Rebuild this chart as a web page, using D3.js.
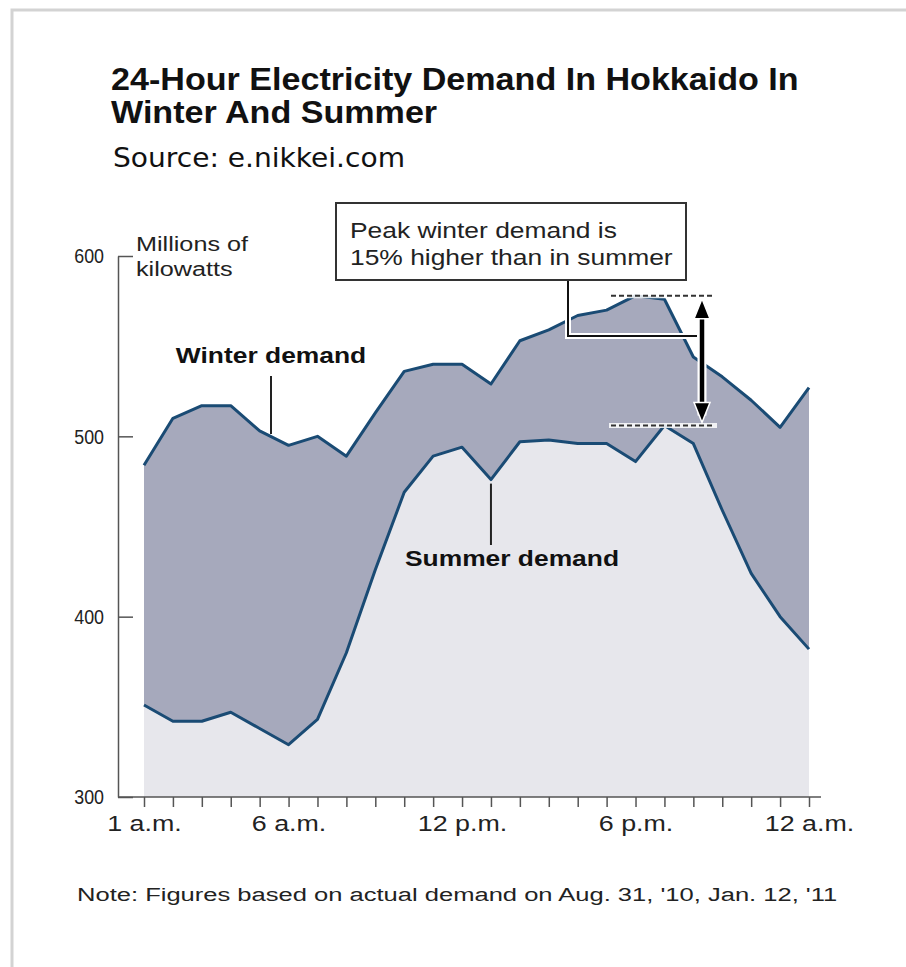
<!DOCTYPE html>
<html>
<head>
<meta charset="utf-8">
<script src="https://cdn.jsdelivr.net/npm/d3@7"></script>
<style>
  body { margin: 0; background: #fff; }
  svg text { font-family: "Liberation Sans", Arial, sans-serif; fill: #111; }
</style>
</head>
<body>
<div id="chart"></div>
<script>
// hours 1 a.m. .. 12 a.m.
const hours = d3.range(1, 25);
const winter = [484, 510, 517, 517, 503, 495, 500, 489, 513, 536, 540, 540,
  529, 553, 559, 567, 570, 578, 576, 544, 533, 520, 505, 527];
const summer = [351, 342, 342, 347, 338, 329, 343, 380, 426, 469, 489, 494,
  476, 497, 498, 496, 496, 486, 506, 496, 459, 424, 400, 382];
const yTicks = [300, 400, 500, 600];
const xLabels = { 1: "1 a.m.", 6: "6 a.m.", 12: "12 p.m.", 18: "6 p.m.", 24: "12 a.m." };

const W = 906, H = 967;
const SX = 1.2; // the graphic's lettering is drawn a bit wide

const svg = d3.select("#chart").append("svg")
  .attr("width", W).attr("height", H);

svg.append("rect").attr("width", W).attr("height", H).attr("fill", "#fff");

// frame (top and left edges only)
svg.append("path")
  .attr("d", `M12,${H} L12,10 L${W},10`)
  .attr("fill", "none").attr("stroke", "#d3d3d3").attr("stroke-width", 3);

// text helper: stretched horizontally around its anchor point
function label(parent, tx, ty, str, size, opts = {}) {
  const t = parent.append("text")
    .attr("transform", `translate(${tx},${ty}) scale(${opts.sx || SX},1)`)
    .attr("font-size", size)
    .attr("text-anchor", opts.anchor || "start")
    .text(str);
  if (opts.bold) t.attr("font-weight", "bold");
  if (opts.fill) t.style("fill", opts.fill);
  if (opts.family) t.style("font-family", opts.family);
  return t;
}

// titles
label(svg, 111, 90, "24-Hour Electricity Demand In Hokkaido In", 31, { bold: true, sx: 1.1 });
label(svg, 111, 123, "Winter And Summer", 31, { bold: true, sx: 1.1 });
label(svg, 113, 167, "Source: e.nikkei.com", 27,
  { sx: 1.04, family: "'DejaVu Sans', Verdana, sans-serif" });

const x = d3.scaleLinear().domain([1, 24]).range([144, 809]);
const y = d3.scaleLinear().domain([300, 600]).range([797, 256]);

// areas
const area = d3.area().x((d, i) => x(hours[i])).y0(y(300)).y1(d => y(d));
svg.append("path").datum(winter).attr("d", area).attr("fill", "#a6a9bc");
svg.append("path").datum(summer).attr("d", area).attr("fill", "#e7e7ec");

const line = d3.line().x((d, i) => x(hours[i])).y(d => y(d));
[winter, summer].forEach(s => {
  svg.append("path").datum(s).attr("d", line)
    .attr("fill", "none").attr("stroke", "#1a4b74")
    .attr("stroke-width", 3).attr("stroke-linejoin", "round");
});

// y axis
const yAxis = svg.append("g").attr("transform", "translate(118,0)")
  .call(d3.axisLeft(y).tickValues(yTicks).tickSize(-15).tickSizeOuter(0).tickPadding(14));
yAxis.selectAll("text").attr("font-size", 21).style("fill", "#222")
  .attr("x", -14 / 0.85).attr("transform", "scale(0.85,1)");
yAxis.selectAll("line, path").attr("stroke", "#555").attr("stroke-width", 1.5);

label(svg, 136, 251, "Millions of", 21, { fill: "#222" });
label(svg, 136, 276, "kilowatts", 21, { fill: "#222" });

// x axis
const xAxis = svg.append("g").attr("transform", `translate(0,${y(300)})`)
  .call(d3.axisBottom(x).tickValues(hours).tickSize(10).tickPadding(8)
    .tickFormat(h => xLabels[h] || ""));
xAxis.select(".domain").remove();
xAxis.selectAll("line").attr("stroke", "#555").attr("stroke-width", 1.5);
xAxis.selectAll("text")
  .attr("font-size", 22).style("fill", "#222")
  .attr("transform", "scale(1.22,1)")
  .attr("x", 0);
svg.append("line").attr("x1", 118).attr("x2", 821)
  .attr("y1", y(300)).attr("y2", y(300))
  .attr("stroke", "#555").attr("stroke-width", 1.5);

// series labels
label(svg, 271, 363, "Winter demand", 22, { bold: true, anchor: "middle" });
svg.append("line").attr("x1", 271).attr("x2", 271).attr("y1", 376).attr("y2", y(winter[4]) + 3)
  .attr("stroke", "#222").attr("stroke-width", 2);

label(svg, 512, 566, "Summer demand", 22, { bold: true, anchor: "middle" });
svg.append("line").attr("x1", x(13)).attr("x2", x(13)).attr("y1", y(summer[12]) + 4).attr("y2", 545)
  .attr("stroke", "#222").attr("stroke-width", 2);

// peak callout
const topY = y(d3.max(winter)), botY = y(d3.max(summer));

const dashes = svg.append("g");
[topY, botY].forEach(yy => {
  dashes.append("line").attr("x1", 609).attr("x2", 717).attr("y1", yy).attr("y2", yy)
    .attr("stroke", "#fff").attr("stroke-width", 5).attr("opacity", 0.85);
  dashes.append("line").attr("x1", 611).attr("x2", 715).attr("y1", yy).attr("y2", yy)
    .attr("stroke", "#333").attr("stroke-width", 2).attr("stroke-dasharray", "5,3");
});

const pointer = svg.append("g");
pointer.append("path").attr("d", "M568,281 L568,336 L697,336")
  .attr("fill", "none").attr("stroke", "#fff").attr("stroke-width", 6);
pointer.append("path").attr("d", "M568,281 L568,336 L697,336")
  .attr("fill", "none").attr("stroke", "#111").attr("stroke-width", 2);

const ax = 702;
const arrow = svg.append("g");
arrow.append("line").attr("x1", ax).attr("x2", ax).attr("y1", topY + 10).attr("y2", botY - 10)
  .attr("stroke", "#fff").attr("stroke-width", 9);
arrow.append("line").attr("x1", ax).attr("x2", ax).attr("y1", topY + 10).attr("y2", botY - 10)
  .attr("stroke", "#000").attr("stroke-width", 4.5);
arrow.append("path")
  .attr("d", `M${ax},${topY + 3} L${ax - 8},${topY + 23} L${ax + 8},${topY + 23} Z`)
  .attr("fill", "#000").attr("stroke", "#fff").attr("stroke-width", 1.5);
arrow.append("path")
  .attr("d", `M${ax},${botY - 3} L${ax - 8},${botY - 23} L${ax + 8},${botY - 23} Z`)
  .attr("fill", "#000").attr("stroke", "#fff").attr("stroke-width", 1.5);

svg.append("rect").attr("x", 336).attr("y", 203).attr("width", 350).attr("height", 77)
  .attr("fill", "#fff").attr("stroke", "#333").attr("stroke-width", 2);
label(svg, 350, 238, "Peak winter demand is", 22, { fill: "#222" });
label(svg, 350, 265, "15% higher than in summer", 22, { fill: "#222" });

// note
label(svg, 77, 901, "Note: Figures based on actual demand on Aug. 31, '10, Jan. 12, '11", 19, { fill: "#222", sx: 1.345 });
</script>
</body>
</html>
